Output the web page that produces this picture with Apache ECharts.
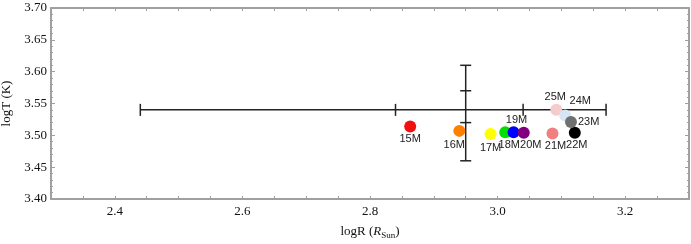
<!DOCTYPE html>
<html>
<head>
<meta charset="utf-8">
<script src="https://cdn.jsdelivr.net/npm/echarts@6/dist/echarts.min.js"></script>
<style>
  html, body { margin: 0; padding: 0; background: #fff; }
  #chart { width: 691px; height: 244px; }
</style>
</head>
<body>
<div id="chart"></div>
<script>
// stellar models (drawn in this order, later ones on top)
var names  = ['15M', '16M', '17M', '18M', '19M', '20M', '21M', '22M', '25M', '24M', '23M'];
var logR   = [2.863, 2.940, 2.989, 3.012, 3.025, 3.041, 3.086, 3.121, 3.092, 3.106, 3.115];
var logT   = [3.514, 3.507, 3.502, 3.505, 3.505, 3.504, 3.503, 3.504, 3.540, 3.531, 3.521];
var colors = ['#f01010', '#ff8000', '#ffff00', '#00e000', '#0000ff', '#800080',
              '#f08080', '#000000', '#f5cccc', '#d6e6f5', '#707070'];

// error bars
var hBarY    = 3.54;
var hBarCaps = [2.44, 2.84, 3.04, 3.17];
var vBarX    = 2.95;
var vBarCaps = [3.46, 3.52, 3.57, 3.61];

// where each name label sits around its dot
var labelPlace = {
    '15M': ['bottom', [0, 0]],
    '16M': ['bottom', [-5, 2]],
    '17M': ['bottom', [0, 1]],
    '18M': ['bottom', [4, 0]],
    '19M': ['top', [3, 0]],
    '20M': ['bottom', [7, 0]],
    '21M': ['bottom', [3, 0]],
    '22M': ['bottom', [2, 0]],
    '23M': ['right', [0, 0]],
    '24M': ['top', [15, -2]],
    '25M': ['top', [-1, 0]]
};

var chart = echarts.init(document.getElementById('chart'));

var points = names.map(function (n, i) {
    var p = labelPlace[n];
    return {
        name: n,
        value: [logR[i], logT[i]],
        itemStyle: { color: colors[i], opacity: 1 },
        label: { position: p[0], offset: p[1] }
    };
});

var frameColor = '#a0a0a0';
var serif = 'Liberation Serif';

function xLabel(v) {
    var k = Math.round(v * 100);
    return k % 20 === 0 ? (k / 100).toFixed(1) : '';
}
function yLabel(v) {
    var k = Math.round(v * 100);
    return k % 5 === 0 ? (k / 100).toFixed(2) : '';
}

var tickStyle = { show: true, inside: true, length: 3, lineStyle: { color: frameColor, width: 1 } };
var lineStyle = { show: true, lineStyle: { color: frameColor, width: 2 } };

chart.setOption({
    animation: false,
    backgroundColor: '#fff',
    grid: { left: 51, right: 2, top: 8, bottom: 45, outerBoundsMode: 'none', containLabel: false },
    xAxis: [{
        type: 'value', min: 2.3, max: 3.3, interval: 0.1, position: 'bottom',
        axisLine: lineStyle,
        axisTick: tickStyle,
        minorTick: { show: true, splitNumber: 2, length: 3, lineStyle: { color: frameColor } },
        splitLine: { show: false },
        axisLabel: { formatter: xLabel, fontFamily: serif, fontSize: 13, color: '#111', margin: 6 },
        name: '{n|logR (}{i|R}{s|Sun}{n|)}',
        nameLocation: 'middle', nameGap: 25,
        nameTextStyle: {
            rich: {
                n: { fontFamily: serif, fontSize: 13, color: '#111', lineHeight: 16 },
                i: { fontFamily: serif, fontSize: 13, fontStyle: 'italic', color: '#111', lineHeight: 16 },
                s: { fontFamily: serif, fontSize: 9, color: '#111', verticalAlign: 'bottom', lineHeight: 16 }
            }
        }
    }, {
        type: 'value', min: 2.3, max: 3.3, interval: 0.1, position: 'top',
        axisLine: lineStyle,
        axisTick: tickStyle,
        minorTick: { show: true, splitNumber: 2, length: 3, lineStyle: { color: frameColor } },
        splitLine: { show: false },
        axisLabel: { show: false }
    }],
    yAxis: [{
        type: 'value', min: 3.4, max: 3.7, interval: 0.05, position: 'left',
        axisLine: lineStyle,
        axisTick: { show: true, inside: true, length: 4, lineStyle: { color: frameColor, width: 1 } },
        minorTick: { show: true, splitNumber: 5, length: 2, lineStyle: { color: frameColor } },
        splitLine: { show: false },
        axisLabel: { formatter: yLabel, fontFamily: serif, fontSize: 13, color: '#111', margin: 4 },
        name: 'logT (K)', nameLocation: 'middle', nameGap: 30,
        nameTextStyle: { fontFamily: serif, fontSize: 13, color: '#111' }
    }, {
        type: 'value', min: 3.4, max: 3.7, interval: 0.05, position: 'right',
        axisLine: lineStyle,
        axisTick: { show: true, inside: true, length: 4, lineStyle: { color: frameColor, width: 1 } },
        minorTick: { show: true, splitNumber: 5, length: 2, lineStyle: { color: frameColor } },
        splitLine: { show: false },
        axisLabel: { show: false }
    }],
    series: [{
        type: 'custom',
        xAxisIndex: 0, yAxisIndex: 0,
        data: [[0]],
        z: 2,
        renderItem: function (params, api) {
            var kids = [];
            var stroke = { stroke: '#222', lineWidth: 1.5 };
            var a = api.coord([hBarCaps[0], hBarY]);
            var b = api.coord([hBarCaps[hBarCaps.length - 1], hBarY]);
            kids.push({ type: 'line', shape: { x1: a[0], y1: a[1], x2: b[0], y2: b[1] }, style: stroke });
            hBarCaps.forEach(function (c) {
                var p = api.coord([c, hBarY]);
                kids.push({ type: 'line', shape: { x1: p[0], y1: p[1] - 6, x2: p[0], y2: p[1] + 6 }, style: stroke });
            });
            var c0 = api.coord([vBarX, vBarCaps[0]]);
            var c1 = api.coord([vBarX, vBarCaps[vBarCaps.length - 1]]);
            kids.push({ type: 'line', shape: { x1: c0[0], y1: c0[1], x2: c1[0], y2: c1[1] }, style: stroke });
            vBarCaps.forEach(function (c) {
                var p = api.coord([vBarX, c]);
                kids.push({ type: 'line', shape: { x1: p[0] - 5.5, y1: p[1], x2: p[0] + 5.5, y2: p[1] }, style: stroke });
            });
            return { type: 'group', children: kids };
        }
    }, {
        type: 'scatter',
        xAxisIndex: 0, yAxisIndex: 0,
        symbolSize: 12,
        z: 3,
        data: points,
        label: {
            show: true,
            formatter: '{b}',
            distance: 1,
            fontFamily: 'Liberation Sans',
            fontSize: 11,
            color: '#222'
        }
    }]
});
</script>
</body>
</html>
